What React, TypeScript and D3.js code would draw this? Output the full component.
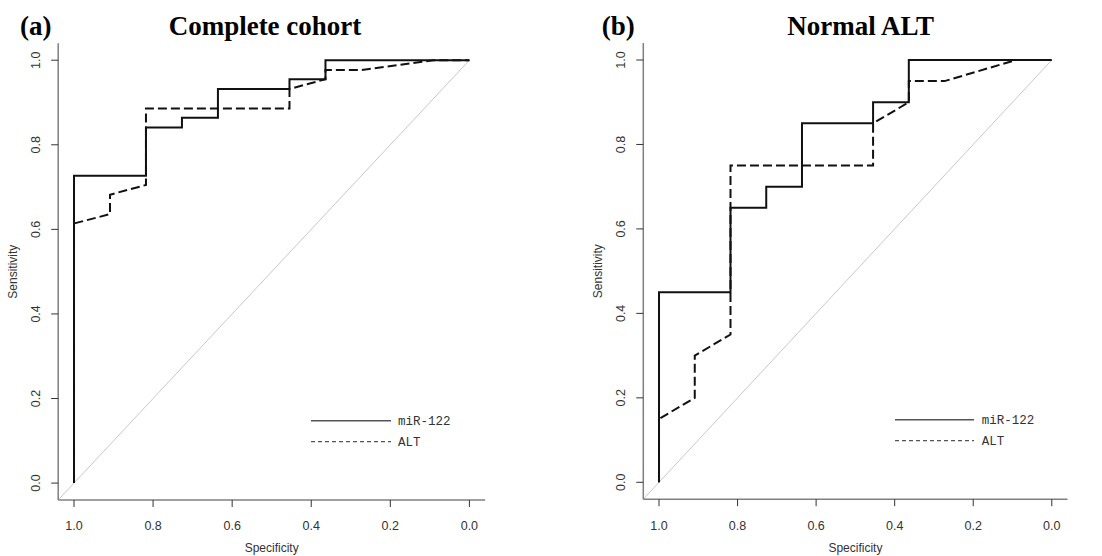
import React from "react";
import * as d3 from "d3";

// ---- Data (specificity, sensitivity) ----
const specA_mir = [1, 1, 0.818, 0.818, 0.727, 0.727, 0.636, 0.636, 0.455, 0.455, 0.364, 0.364, 0];
const sensA_mir = [0, 0.727, 0.727, 0.841, 0.841, 0.864, 0.864, 0.932, 0.932, 0.955, 0.955, 1, 1];
const specA_alt = [1, 1, 0.909, 0.909, 0.818, 0.818, 0.455, 0.455, 0.364, 0.364, 0.273, 0.091, 0];
const sensA_alt = [0, 0.614, 0.636, 0.682, 0.705, 0.886, 0.886, 0.932, 0.955, 0.977, 0.977, 1, 1];

const specB_mir = [1, 1, 0.818, 0.818, 0.727, 0.727, 0.636, 0.636, 0.455, 0.455, 0.364, 0.364, 0];
const sensB_mir = [0, 0.45, 0.45, 0.65, 0.65, 0.7, 0.7, 0.85, 0.85, 0.9, 0.9, 1, 1];
const specB_alt = [1, 1, 0.909, 0.909, 0.818, 0.818, 0.455, 0.455, 0.364, 0.364, 0.273, 0.091, 0];
const sensB_alt = [0, 0.15, 0.2, 0.3, 0.35, 0.75, 0.75, 0.85, 0.9, 0.95, 0.95, 1, 1];

const ticks = [0, 0.2, 0.4, 0.6, 0.8, 1.0];
const tickLabels = ["0.0", "0.2", "0.4", "0.6", "0.8", "1.0"];
const seriesNames = ["miR-122", "ALT"];
const panelTags = ["(a)", "(b)"];
const panelTitles = ["Complete cohort", "Normal ALT"];

type PanelProps = {
  x0: number; x1: number; y0: number; y1: number;
  mir: [number[], number[]]; alt: [number[], number[]];
  tag: string; title: string; tagX: number; titleX: number;
  legX0: number; legX1: number; legTextX: number; legY: number;
};

function Panel(p: PanelProps) {
  const x = d3.scaleLinear().domain([1.04, -0.04]).range([p.x0, p.x1]);
  const y = d3.scaleLinear().domain([-0.04, 1.04]).range([p.y1, p.y0]);
  const line = d3.line<[number, number]>().x((d) => x(d[0])).y((d) => y(d[1]));
  const pts = (s: number[], t: number[]) => s.map((v, i) => [v, t[i]] as [number, number]);
  const sans = "'Liberation Sans', Arial, sans-serif";
  return (
    <g>
      <text x={p.tagX} y={35} fontFamily="'Liberation Serif', 'Times New Roman', serif" fontWeight="bold" fontSize={27}>{p.tag}</text>
      <text x={p.titleX} y={35} textAnchor="middle" fontFamily="'Liberation Serif', 'Times New Roman', serif" fontWeight="bold" fontSize={27}>{p.title}</text>
      {/* diagonal */}
      <line x1={x(1.04)} y1={y(-0.04)} x2={x(0)} y2={y(1)} stroke="#c8c8c8" strokeWidth={1} />
      {/* axes */}
      <line x1={p.x0} y1={p.y1} x2={p.x1} y2={p.y1} stroke="#808080" strokeWidth={1.5} />
      <line x1={p.x0} y1={p.y0} x2={p.x0} y2={p.y1} stroke="#808080" strokeWidth={1.5} />
      {ticks.map((t, i) => (
        <g key={"x" + i}>
          <line x1={x(t)} y1={p.y1} x2={x(t)} y2={p.y1 + 7} stroke="#333" strokeWidth={1} />
          <text x={x(t)} y={530} textAnchor="middle" fontFamily={sans} fontSize={12.5} fill="#333">{tickLabels[i]}</text>
        </g>
      ))}
      {ticks.map((t, i) => (
        <g key={"y" + i}>
          <line x1={p.x0 - 7} y1={y(t)} x2={p.x0} y2={y(t)} stroke="#333" strokeWidth={1} />
          <text transform={`translate(${p.x0 - 18},${y(t)}) rotate(-90)`} textAnchor="middle" fontFamily={sans} fontSize={12.5} fill="#333">{tickLabels[i]}</text>
        </g>
      ))}
      <text x={(x(1) + x(0)) / 2} y={552} textAnchor="middle" fontFamily={sans} fontSize={12} fill="#333">Specificity</text>
      <text transform={`translate(${p.x0 - 41},${y(0.5)}) rotate(-90)`} textAnchor="middle" fontFamily={sans} fontSize={12} fill="#333">Sensitivity</text>
      {/* curves */}
      <path d={line(pts(p.alt[0], p.alt[1])) || ""} fill="none" stroke="#111" strokeWidth={2} strokeDasharray="9,4" />
      <path d={line(pts(p.mir[0], p.mir[1])) || ""} fill="none" stroke="#111" strokeWidth={2} />
      {/* legend */}
      <line x1={p.legX0} y1={p.legY} x2={p.legX1} y2={p.legY} stroke="#555" strokeWidth={1.5} />
      <line x1={p.legX0} y1={p.legY + 21} x2={p.legX1} y2={p.legY + 21} stroke="#555" strokeWidth={1.2} strokeDasharray="4,3" />
      <text x={p.legTextX} y={p.legY + 4.5} fontFamily="'Liberation Mono', 'Courier New', monospace" fontSize={12.5} fill="#333">{seriesNames[0]}</text>
      <text x={p.legTextX} y={p.legY + 25.5} fontFamily="'Liberation Mono', 'Courier New', monospace" fontSize={12.5} fill="#333">{seriesNames[1]}</text>
    </g>
  );
}

export default function App() {
  return (
    <svg width={1102} height={556} style={{ position: "absolute", left: 0, top: 0, background: "#fff" }}>
      <rect width={1102} height={556} fill="#fff" />
      <Panel x0={58.2} x1={485.2} y0={43.3} y1={500} mir={[specA_mir, sensA_mir]} alt={[specA_alt, sensA_alt]}
        tag={panelTags[0]} title={panelTitles[0]} tagX={20} titleX={265}
        legX0={311} legX1={391} legTextX={398} legY={420.7} />
      <Panel x0={643.3} x1={1067.5} y0={43.1} y1={499.2} mir={[specB_mir, sensB_mir]} alt={[specB_alt, sensB_alt]}
        tag={panelTags[1]} title={panelTitles[1]} tagX={601.7} titleX={860.7}
        legX0={895} legX1={974} legTextX={981.7} legY={419.7} />
    </svg>
  );
}
